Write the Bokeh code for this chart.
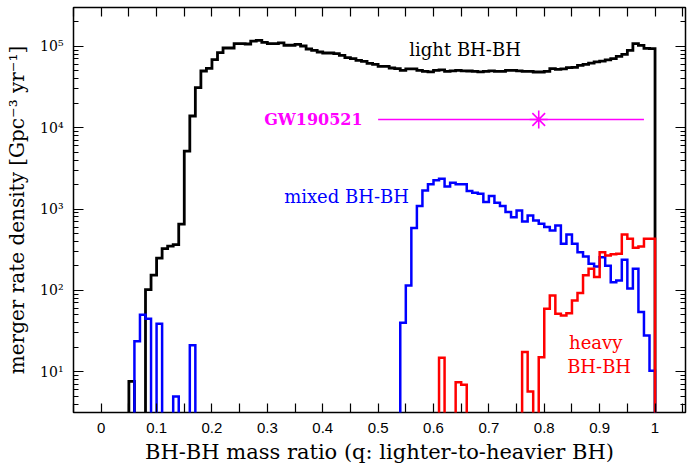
import numpy as np
from bokeh.plotting import figure
from bokeh.models import (Range1d, FixedTicker, CustomJSTickFormatter, LinearAxis,
                          LogAxis, Label)
from bokeh.embed import file_html
from bokeh.resources import INLINE

# ---------------- data ----------------
BIN_WIDTH = 0.01

# light BH-BH (black), bins starting at 0.05
light_start = 0.05
light_rate = [
    7.6, 0, 0, 102, 154, 249, 325, 350, 364, 653,            # 0.05-0.14
    5150, 13900, 31000, 49700, 53500, 68500, 83600, 95300, 95300, 108000,  # 0.15-0.24
    108000, 106700, 116000, 118500, 112000, 108000, 108000, 110000, 103000, 103000,  # 0.25-0.34
    105800, 100900, 92700, 89300, 85100, 82700, 82700, 81300, 77500, 72600,  # 0.35-0.44
    70600, 67300, 65400, 61800, 60100, 56700, 56700, 54100, 53200, 50700,  # 0.45-0.54
    52900, 52900, 50700, 49200, 48500, 50700, 51400, 49200, 50000, 50700,  # 0.55-0.64
    50000, 49700, 49200, 48500, 49200, 50000, 49200, 49200, 50700, 50700,  # 0.65-0.74
    50000, 49200, 49200, 48300, 48300, 49200, 53200, 52100, 52900, 54700,  # 0.75-0.84
    55200, 58400, 60100, 62300, 64400, 65900, 68200, 70600, 75300, 79700,  # 0.85-0.94
    89300, 108000, 102900, 94500, 93700,                      # 0.95-0.99
]

# mixed BH-BH (blue), bins starting at 0.06
mixed_start = 0.06
mixed_rate = [
    23.7, 50, 44.8, 0, 38.8, 0, 0, 4.95, 0, 0, 21.2,         # 0.06-0.16
] + [0] * 37 + [                                             # 0.17-0.53
    39.9, 115, 582, 1086, 1694, 2009, 2249, 2360, 1897, 2103,  # 0.54-0.63
    2009, 2009, 1660, 1585, 1541, 1216, 1441, 1194, 1086, 916,  # 0.64-0.73
    794, 961, 704, 834, 724, 659, 599, 545, 629, 374,          # 0.74-0.83
    487, 374, 295, 261, 212, 197, 256, 200, 126, 132,          # 0.84-0.93
    238, 105, 184, 54, 27.9, 10.3,                             # 0.94-0.99
]

# heavy BH-BH (red), bins starting at 0.61
heavy_start = 0.61
heavy_rate = [
    14.8, 0, 0, 7.43, 6.9,                                     # 0.61-0.65
] + [0] * 10 + [                                             # 0.66-0.75
    17.4, 5.7, 0, 15.1, 59.3, 86.5, 51.5, 49.1, 52.4, 75.1,    # 0.76-0.85
    92.5, 153, 184, 146, 295, 268, 277, 282, 487, 431,          # 0.86-0.95
    334, 347, 431, 431,                                         # 0.96-0.99
]

# GW190521 point
gw_q = 0.79
gw_q_low = 0.50
gw_q_high = 0.98
gw_rate = 12600

x_tick_values = [0, 0.1, 0.2, 0.3, 0.4, 0.5, 0.6, 0.7, 0.8, 0.9, 1.0]
x_tick_labels = ["0", "0.1", "0.2", "0.3", "0.4", "0.5", "0.6", "0.7", "0.8", "0.9", "1"]
x_minor_values = [-0.05, 0.05, 0.15, 0.25, 0.35, 0.45, 0.55, 0.65, 0.75, 0.85, 0.95, 1.05]
y_tick_values = [10, 100, 1000, 10000, 100000]
y_tick_labels = ["10\u00b9", "10\u00b2", "10\u00b3", "10\u2074", "10\u2075"]

X_RANGE = (-0.05, 1.055)
Y_RANGE = (3.15, 3.0e5)
FLOOR = 1.0  # zero-rate bins are drawn below the visible range


def step_xy(start, rates):
    n = len(rates)
    starts = start + BIN_WIDTH * np.arange(n)
    r = np.asarray(rates, float)
    vals = np.where(r > 0, r, FLOOR)
    xs = np.concatenate([[starts[0]], starts, [starts[-1] + BIN_WIDTH]])
    ys = np.concatenate([[FLOOR], vals, [FLOOR]])
    return xs, ys


p = figure(width=689, height=467, x_range=Range1d(*X_RANGE), y_range=Range1d(*Y_RANGE),
           y_axis_type="log", toolbar_location=None, output_backend="svg",
           min_border_left=73, min_border_right=4, min_border_top=7, min_border_bottom=55)
p.xgrid.visible = False
p.ygrid.visible = False
p.outline_line_color = "black"
p.outline_line_width = 1.5
p.background_fill_color = "white"
p.border_fill_color = "white"

SERIF = "DejaVu Serif"

fmt_x = CustomJSTickFormatter(args=dict(tvals=x_tick_values, tlabels=x_tick_labels), code="""
const i = tvals.findIndex(t => Math.abs(t - tick) < 1e-9);
return i >= 0 ? tlabels[i] : '';
""")
fmt_y = CustomJSTickFormatter(args=dict(tvals=y_tick_values, tlabels=y_tick_labels), code="""
const i = tvals.findIndex(t => Math.abs(t - tick) < 1e-6 * t);
return i >= 0 ? tlabels[i] : '';
""")
blank_x = CustomJSTickFormatter(code="return '';")
blank_y = CustomJSTickFormatter(code="return '';")

y_minor = []
for d in [1, 10, 100, 1000, 10000, 100000]:
    for k in range(2, 10):
        v = k * d
        if Y_RANGE[0] <= v <= Y_RANGE[1]:
            y_minor.append(v)


def style_x(ax):
    ax.ticker = FixedTicker(ticks=x_tick_values, minor_ticks=x_minor_values)
    ax.axis_line_color = None
    ax.major_tick_in = 9
    ax.major_tick_out = 0
    ax.minor_tick_in = 9
    ax.minor_tick_out = 0
    ax.major_tick_line_color = "black"
    ax.minor_tick_line_color = "black"
    ax.major_tick_line_width = 1.2
    ax.minor_tick_line_width = 1.2


def style_y(ax):
    ax.ticker = FixedTicker(ticks=y_tick_values, minor_ticks=y_minor)
    ax.axis_line_color = None
    ax.major_tick_in = 10
    ax.major_tick_out = 0
    ax.minor_tick_in = 5
    ax.minor_tick_out = 0
    ax.major_tick_line_color = "black"
    ax.minor_tick_line_color = "black"
    ax.major_tick_line_width = 1.2
    ax.minor_tick_line_width = 1.2


xa = p.xaxis[0]
style_x(xa)
xa.formatter = fmt_x
xa.major_label_text_font = "Liberation Sans"
xa.major_label_text_font_size = "15px"
xa.major_label_text_color = "black"
xa.major_label_standoff = 10
xa.axis_label = "BH-BH mass ratio (q: lighter-to-heavier BH)"
xa.axis_label_text_font = SERIF
xa.axis_label_text_font_size = "21px"
xa.axis_label_text_font_style = "normal"
xa.axis_label_text_color = "black"
xa.axis_label_standoff = 4

ya = p.yaxis[0]
style_y(ya)
ya.formatter = fmt_y
ya.major_label_text_font = SERIF
ya.major_label_text_font_size = "14px"
ya.major_label_text_color = "black"
ya.major_label_standoff = 10
ya.axis_label = "merger rate density [Gpc\u207b\u00b3 yr\u207b\u00b9]"
ya.axis_label_text_font = SERIF
ya.axis_label_text_font_size = "20px"
ya.axis_label_text_font_style = "normal"
ya.axis_label_text_color = "black"
ya.axis_label_standoff = 8

top = LinearAxis(formatter=blank_x, major_label_text_font_size="0px", major_label_standoff=0,
                 axis_label_standoff=0)
style_x(top)
p.add_layout(top, "above")
right = LogAxis(formatter=blank_y, major_label_text_font_size="0px", major_label_standoff=0,
                axis_label_standoff=0)
style_y(right)
p.add_layout(right, "right")

# histograms
for start, rates, color, lw in [(light_start, light_rate, "#000000", 2.8),
                                (mixed_start, mixed_rate, "#0000ff", 2.5),
                                (heavy_start, heavy_rate, "#ff0000", 2.5)]:
    xs, ys = step_xy(start, rates)
    p.step(xs, ys, mode="after", line_color=color, line_width=lw, line_join="miter")

# GW190521
p.segment(x0=[gw_q_low], y0=[gw_rate], x1=[gw_q_high], y1=[gw_rate],
          line_color="#ff00ff", line_width=1.5)
p.scatter(x=[gw_q], y=[gw_rate], marker="asterisk", size=18, line_color="#ff00ff",
          line_width=1.6)

labels = [
    dict(x=0.657, y=92000, text="light BH-BH", color="black", align="center", style="normal"),
    dict(x=0.472, y=gw_rate, text="GW190521", color="#ff00ff", align="right", style="bold"),
    dict(x=0.443, y=1430, text="mixed BH-BH", color="#0000ff", align="center", style="normal"),
    dict(x=0.893, y=23.1, text="heavy", color="#ff0000", align="center", style="normal"),
    dict(x=0.899, y=11.7, text="BH-BH", color="#ff0000", align="center", style="normal"),
]
for lb in labels:
    p.add_layout(Label(x=lb["x"], y=lb["y"], text=lb["text"], text_color=lb["color"],
                       text_align=lb["align"], text_baseline="middle",
                       text_font=SERIF, text_font_size="16px" if lb["style"] == "bold" else "18px",
                       text_font_style=lb["style"]))

open("out.html", "w").write(file_html(p, INLINE))
